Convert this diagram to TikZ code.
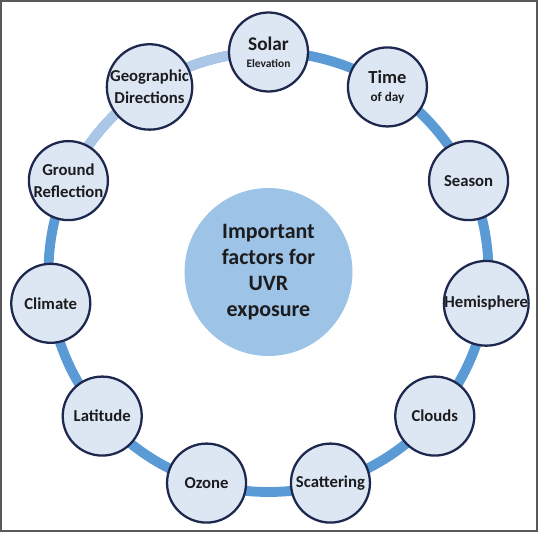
\documentclass[tikz,border=0pt]{standalone}
\usepackage{fontspec}
\setmainfont{Carlito}
\usetikzlibrary{positioning}

\definecolor{ringblue}{RGB}{91,155,213}
\definecolor{ringpale}{RGB}{170,199,232}
\definecolor{factorfill}{RGB}{221,231,244}
\definecolor{factoredge}{RGB}{30,40,78}
\definecolor{hubfill}{RGB}{157,195,230}
\definecolor{labeltext}{RGB}{28,28,30}

\tikzset{
  factor/.style={circle,draw=factoredge,fill=factorfill,line width=1.3pt,
    minimum size=1.58cm,inner sep=0pt,align=center,text=labeltext,
    font=\fontsize{9.5}{12.5}\selectfont\bfseries},
  hub/.style={circle,fill=hubfill,minimum size=3.36cm,inner sep=0pt,
    align=center,text=labeltext,font=\fontsize{12.5}{14.7}\selectfont\bfseries},
  ring/.style={ringblue,line width=5.6pt},
  ringlight/.style={ringpale,line width=5.6pt}
}

\begin{document}
\begin{tikzpicture}
  \useasboundingbox (-5.37,-5.2) rectangle (5.39,5.44);
  \draw[gray!70!black,line width=1.1pt] (-5.35,-5.18) rectangle (5.37,5.42);

  \node[hub] (hub) at (0,0) {Important\\factors for\\UVR\\exposure};

  % ring behind the factors
  \draw[ring] (hub.center) circle (4.4);
  \coordinate (top) at (90:4.4);
  \draw[ringlight] (top) arc[start angle=90,end angle=155.45,radius=4.4];

  \node[factor] (solar) at (90:4.4)
    {{\fontsize{11}{12}\selectfont Solar}\\[-3pt]{\fontsize{6.5}{7}\selectfont Elevation}};
  \node[factor] (time) at (57.27:4.4)
    {{\fontsize{10.5}{12}\selectfont Time}\\[-2pt]{\fontsize{7.5}{8}\selectfont of day}};
  \node[factor] (season) at (24.55:4.4) {Season};
  \node[factor] (hemisphere) at (-8.18:4.4) {Hemisphere};
  \node[factor] (clouds) at (-40.91:4.4) {Clouds};
  \node[factor] (scattering) at (-73.64:4.4) {Scattering};
  \node[factor] (ozone) at (-106.36:4.4) {Ozone};
  \node[factor] (latitude) at (-139.09:4.4) {Latitude};
  \node[factor] (climate) at (-171.82:4.4) {Climate};
  \node[factor] (ground) at (155.45:4.4) {Ground\\Reflection};
  \node[factor] (geo) at (122.73:4.4) {Geographic\\Directions};
\end{tikzpicture}
\end{document}
